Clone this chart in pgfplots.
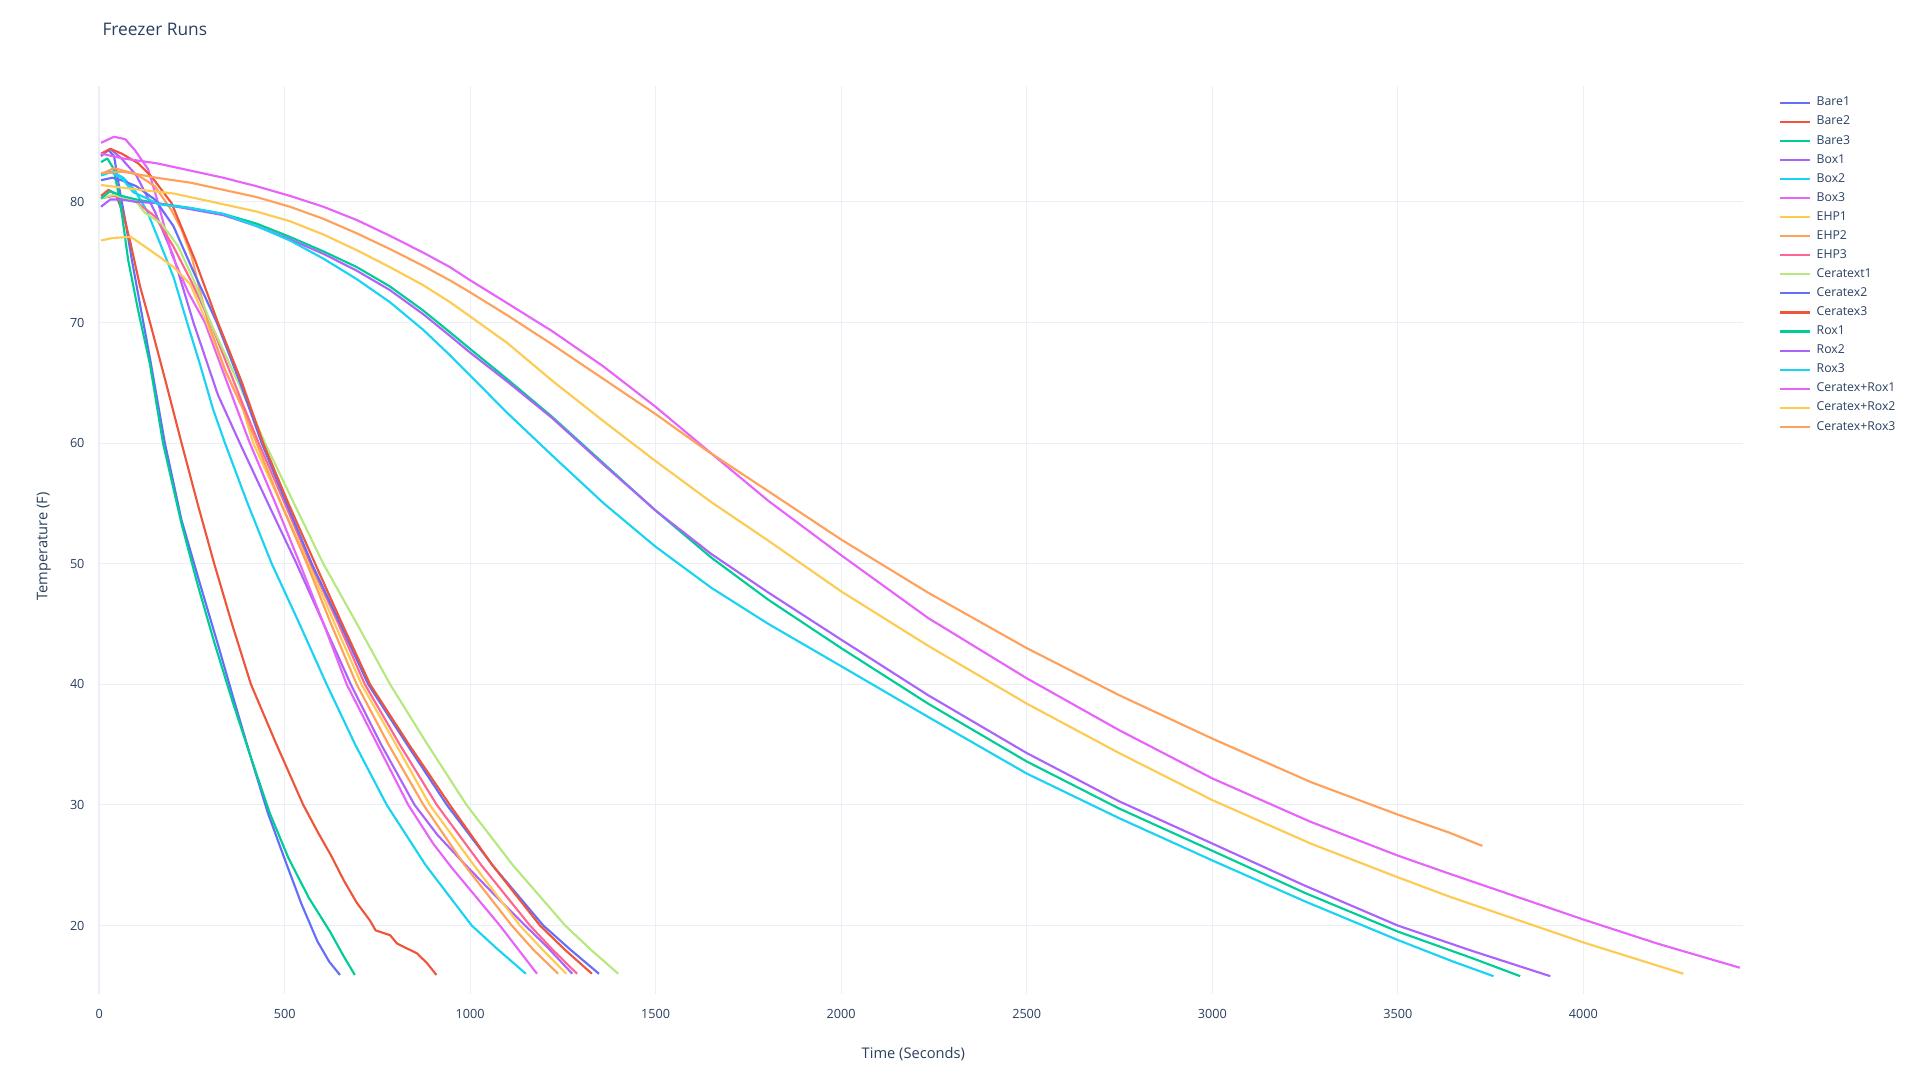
\documentclass[border=0pt]{standalone}
\usepackage{fontspec}
\setmainfont{Open Sans}
\usepackage{pgfplots}
\pgfplotsset{compat=1.18}

\definecolor{txt}{HTML}{2A3F5F}
\definecolor{gridc}{HTML}{EBF0F8}
\definecolor{cA}{HTML}{636EFA}
\definecolor{cB}{HTML}{EF553B}
\definecolor{cC}{HTML}{00CC96}
\definecolor{cD}{HTML}{AB63FA}
\definecolor{cE}{HTML}{19D3F3}
\definecolor{cF}{HTML}{E763FA}
\definecolor{cG}{HTML}{FECB52}
\definecolor{cH}{HTML}{FFA15A}
\definecolor{cI}{HTML}{FF6692}
\definecolor{cJ}{HTML}{B6E880}

\begin{document}
\begin{tikzpicture}
\path[use as bounding box] (0pt,0pt) rectangle (1440pt,810pt);

\node[anchor=base west, text=txt, font=\fontsize{13}{15}\selectfont, inner sep=0pt]
  at (76.7pt,783pt) {Freezer Runs};

\begin{axis}[
  at={(74.4pt,64.3pt)}, anchor=south west,
  scale only axis, width=1232.7pt, height=681.1pt,
  xmin=0, xmax=4430, ymin=14.3, ymax=89.6,
  xtick={0,500,...,4000}, ytick={20,30,...,80},
  grid=major, major grid style={color=gridc, line width=0.75pt},
  axis line style={draw=none},
  major tick length=0pt,
  tick label style={font=\fontsize{9.5}{11}\selectfont, text=txt},
  /pgf/number format/assume math mode=true,
  /pgf/number format/1000 sep={},
  xticklabel style={yshift=-8pt},
  yticklabel style={xshift=-7.5pt},
  clip=false,
  every axis plot/.append style={line width=1.6pt, line join=round},
  legend cell align=left,
  legend image code/.code={\draw[#1] (0pt,0pt) -- (22.5pt,0pt);},
  legend style={draw=none, fill=none, inner sep=0pt, outer sep=0pt,
    at={(1.022,0.9885)}, anchor=north west,
    font=\fontsize{9.2}{11}\selectfont, text=txt, row sep=5.1pt,
    nodes={inner sep=0pt, text height=7pt, text depth=2.2pt},
    /tikz/every odd column/.append style={column sep=4.2pt}},
]
\draw[gridc, line width=1.5pt] (axis cs:0,14.3) -- (axis cs:0,89.6);

% Bare1
\addplot[cA] coordinates {(5,83.8) (25,84.3) (40,83.8) (55,81.0) (70,78.5) (88,75.2) (110,71.5) (137,67.0) (177,60.0) (222,53.6) (270,48.5) (320,43.3) (365,38.5) (410,33.8) (455,29.3) (500,25.5) (545,21.8) (588,18.7) (620,17.0) (649,15.9)};
\addlegendentry{Bare1}
% Bare2
\addplot[cB] coordinates {(5,80.5) (25,81.0) (45,80.6) (65,79.0) (85,76.5) (110,73.0) (137,70.0) (180,65.0) (222,60.0) (265,55.0) (310,50.0) (358,45.0) (409,40.0) (478,35.0) (550,30.0) (590,27.7) (625,25.8) (660,23.7) (694,21.9) (730,20.4) (745,19.6) (784,19.2) (803,18.5) (856,17.7) (883,16.9) (909,15.9)};
\addlegendentry{Bare2}
% Bare3
\addplot[cC] coordinates {(5,83.3) (22,83.6) (38,82.8) (50,81.0) (62,78.8) (78,75.2) (105,71.0) (137,66.5) (172,60.0) (222,53.3) (265,48.3) (310,43.5) (358,38.7) (406,34.2) (460,29.3) (510,25.6) (565,22.3) (622,19.5) (660,17.4) (689,15.9)};
\addlegendentry{Bare3}
% Box1
\addplot[cD] coordinates {(5,83.9) (30,84.4) (60,83.6) (100,82.2) (150,79.2) (200,75.5) (254,70.0) (320,64.0) (379,60.0) (455,55.0) (532,50.0) (605,45.0) (678,40.0) (760,35.0) (850,30.0) (912,27.5) (988,25.0) (1070,22.4) (1148,20.0) (1205,18.3) (1275,16.0)};
\addlegendentry{Box1}
% Box2
\addplot[cE] coordinates {(5,82.2) (35,82.5) (65,82.0) (95,81.0) (128,79.3) (165,76.5) (200,73.8) (237,70.0) (272,66.5) (307,62.8) (339,60.0) (400,55.0) (465,50.0) (540,45.0) (613,40.0) (690,35.0) (775,30.0) (880,25.0) (1004,20.0) (1075,18.0) (1150,16.0)};
\addlegendentry{Box2}
% Box3
\addplot[cF] coordinates {(5,84.9) (40,85.4) (70,85.2) (96,84.3) (132,82.7) (159,79.9) (195,75.7) (240,72.5) (285,70.0) (345,65.0) (406,60.0) (475,55.0) (541,50.0) (605,45.0) (667,40.0) (750,35.0) (833,30.0) (900,26.8) (950,24.8) (1080,20.0) (1130,18.0) (1180,16.0)};
\addlegendentry{Box3}
% EHP1
\addplot[cG] coordinates {(5,76.8) (35,77.0) (85,77.1) (123,76.3) (160,75.5) (200,74.6) (245,73.2) (290,70.0) (340,66.0) (388,62.8) (415,60.0) (490,55.0) (565,50.0) (635,45.0) (707,40.0) (800,35.0) (891,30.0) (1010,25.0) (1134,20.0) (1195,18.0) (1259,16.0)};
\addlegendentry{EHP1}
% EHP2
\addplot[cH] coordinates {(5,82.3) (40,82.8) (100,82.3) (150,81.3) (195,79.3) (222,77.7) (249,75.5) (270,72.8) (294,70.0) (340,66.0) (388,62.8) (424,60.0) (490,55.0) (560,50.0) (625,45.0) (694,40.0) (780,35.0) (874,30.0) (985,25.0) (1112,20.0) (1170,18.0) (1237,16.0)};
\addlegendentry{EHP2}
% EHP3
\addplot[cI] coordinates {(5,80.3) (40,80.5) (100,80.0) (150,78.8) (200,76.3) (250,73.3) (300,70.0) (345,66.5) (390,63.0) (430,60.0) (500,55.0) (570,50.0) (645,45.0) (716,40.0) (810,35.0) (910,30.0) (1030,25.0) (1161,20.0) (1222,18.0) (1288,16.0)};
\addlegendentry{EHP3}
% Ceratext1
\addplot[cJ] coordinates {(5,80.3) (40,80.6) (100,80.0) (123,79.1) (168,78.2) (213,76.3) (255,73.5) (300,70.0) (375,65.0) (447,60.0) (525,55.0) (604,50.0) (695,45.0) (784,40.0) (885,35.0) (990,30.0) (1115,25.0) (1256,20.0) (1325,18.0) (1399,16.0)};
\addlegendentry{Ceratext1}
% Ceratex2
\addplot[cA] coordinates {(5,81.8) (35,82.0) (60,81.8) (100,81.3) (150,80.2) (200,78.0) (250,74.5) (317,70.0) (380,65.0) (438,60.0) (505,55.0) (573,50.0) (650,45.0) (725,40.0) (830,35.0) (937,30.0) (1060,25.0) (1197,20.0) (1270,18.0) (1347,16.0)};
\addlegendentry{Ceratex2}
% Ceratex3
\addplot[cB] coordinates {(5,84.0) (30,84.4) (61,84.0) (105,83.2) (141,82.1) (195,79.9) (258,75.2) (320,70.0) (385,65.0) (442,60.0) (510,55.0) (582,50.0) (655,45.0) (730,40.0) (835,35.0) (945,30.0) (1060,25.0) (1188,20.0) (1255,18.0) (1328,16.0)};
\addlegendentry{Ceratex3}
% Rox1
\addplot[cC] coordinates {(5,80.3) (30,80.9) (60,80.5) (100,80.2) (155,79.9) (245,79.5) (335,79.0) (424,78.2) (514,77.1) (604,75.9) (694,74.6) (783,73.0) (873,71.0) (945,69.2) (1000,67.8) (1100,65.3) (1220,62.2) (1360,58.3) (1500,54.4) (1650,50.5) (1804,47.0) (2000,43.0) (2234,38.4) (2500,33.6) (2749,29.7) (3000,26.2) (3250,22.7) (3500,19.5) (3700,17.3) (3830,15.8)};
\addlegendentry{Rox1}
% Rox2
\addplot[cD] coordinates {(5,79.6) (30,80.2) (60,80.2) (100,80.0) (155,79.9) (245,79.4) (335,78.9) (424,78.0) (514,76.9) (604,75.7) (694,74.3) (783,72.7) (873,70.7) (945,68.9) (1000,67.5) (1100,65.1) (1220,62.1) (1360,58.2) (1500,54.4) (1650,50.8) (1804,47.6) (2000,43.7) (2234,39.1) (2500,34.3) (2749,30.3) (3000,26.8) (3250,23.3) (3500,20.0) (3700,17.9) (3911,15.8)};
\addlegendentry{Rox2}
% Rox3
\addplot[cE] coordinates {(5,82.2) (30,82.5) (60,82.0) (92,80.8) (128,80.3) (160,79.8) (245,79.5) (335,79.0) (424,78.0) (514,76.8) (604,75.3) (694,73.6) (783,71.7) (873,69.4) (945,67.3) (1000,65.6) (1100,62.5) (1220,59.0) (1360,55.0) (1500,51.4) (1650,48.0) (1804,45.0) (2000,41.5) (2234,37.3) (2500,32.6) (2749,28.9) (3000,25.4) (3250,22.0) (3500,18.8) (3650,17.0) (3758,15.8)};
\addlegendentry{Rox3}
% Ceratex+Rox1
\addplot[cF] coordinates {(5,84.0) (65,83.6) (155,83.2) (245,82.6) (335,82.0) (424,81.3) (514,80.5) (604,79.6) (694,78.5) (783,77.2) (873,75.8) (945,74.6) (1000,73.5) (1100,71.6) (1220,69.3) (1357,66.4) (1500,63.0) (1632,59.6) (1804,55.2) (2000,50.7) (2234,45.5) (2500,40.5) (2749,36.2) (3000,32.2) (3265,28.6) (3500,25.8) (3639,24.3) (4000,20.5) (4200,18.5) (4422,16.5)};
\addlegendentry{Ceratex+Rox1}
% Ceratex+Rox2
\addplot[cG] coordinates {(5,81.4) (110,81.0) (200,80.7) (335,79.8) (424,79.2) (514,78.4) (604,77.3) (694,76.0) (783,74.6) (873,73.1) (945,71.7) (1000,70.5) (1100,68.3) (1220,65.2) (1360,61.8) (1500,58.5) (1650,55.1) (1804,51.9) (2000,47.7) (2234,43.2) (2500,38.4) (2749,34.3) (3000,30.4) (3265,26.8) (3500,24.0) (3639,22.4) (4000,18.6) (4270,16.0)};
\addlegendentry{Ceratex+Rox2}
% Ceratex+Rox3
\addplot[cH] coordinates {(5,82.4) (65,82.5) (155,82.0) (245,81.6) (335,81.0) (424,80.4) (514,79.6) (604,78.6) (694,77.4) (783,76.1) (873,74.7) (945,73.5) (1000,72.5) (1100,70.6) (1220,68.2) (1360,65.3) (1500,62.4) (1632,59.5) (1804,56.0) (2000,52.0) (2234,47.6) (2500,43.0) (2749,39.1) (3000,35.5) (3265,31.9) (3500,29.2) (3639,27.7) (3728,26.6)};
\addlegendentry{Ceratex+Rox3}
\end{axis}

\node[text=txt, font=\fontsize{11}{13}\selectfont] at (685pt,19.5pt) {Time (Seconds)};
\node[text=txt, font=\fontsize{11}{13}\selectfont, rotate=90] at (33pt,400pt) {Temperature (F)};
\end{tikzpicture}
\end{document}
